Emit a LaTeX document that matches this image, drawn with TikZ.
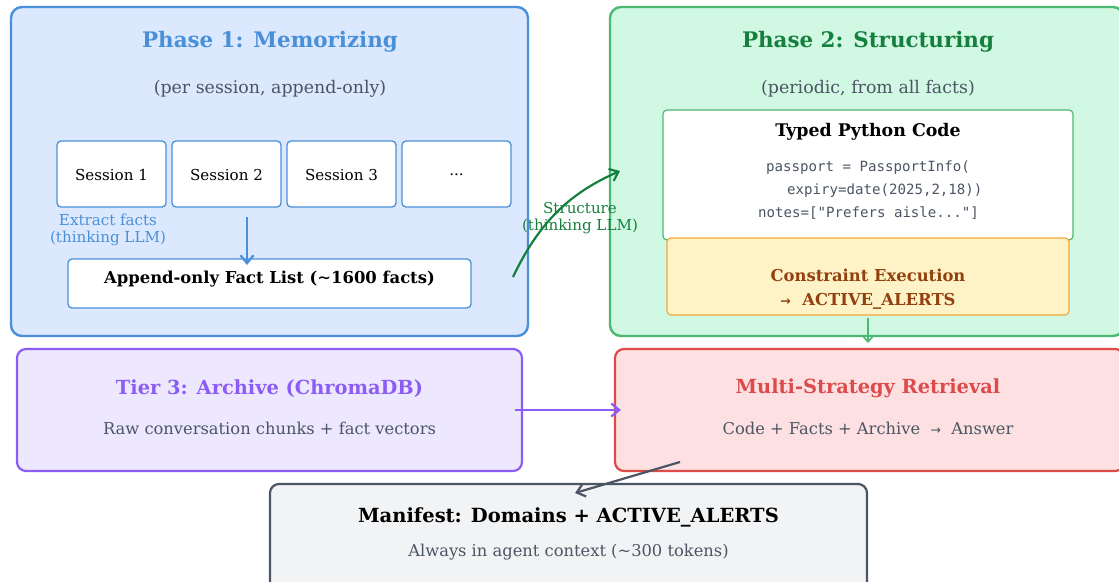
\documentclass[tikz,border=0pt]{standalone}
\usepackage{fontspec}
\setmainfont{DejaVu Serif}
\setmonofont{DejaVu Sans Mono}
\usetikzlibrary{arrows.meta}
\definecolor{pblue}{HTML}{4A90D9}
\definecolor{pbluefill}{HTML}{DBE8FD}
\definecolor{pgreen}{HTML}{4CB872}
\definecolor{pgreenfill}{HTML}{D1F8E3}
\definecolor{dgreen}{HTML}{15803D}
\definecolor{tgray}{HTML}{4B5563}
\definecolor{porange}{HTML}{F2A93B}
\definecolor{porangefill}{HTML}{FEF2C7}
\definecolor{brown}{HTML}{92400E}
\definecolor{ppurple}{HTML}{8B5CF6}
\definecolor{ppurplefill}{HTML}{EDE8FE}
\definecolor{pred}{HTML}{DC4A4A}
\definecolor{predfill}{HTML}{FDE0E1}
\definecolor{mgray}{HTML}{4B5563}
\definecolor{mfill}{HTML}{F2F3F5}
\tikzset{
  x=1pt, y=-1pt,
  outer/.style={rounded corners=11pt, line width=2.4pt},
  inner/.style={rounded corners=4pt, line width=1.3pt},
  title/.style={font=\fontsize{21.4}{25}\selectfont\bfseries},
  sub/.style={font=\fontsize{17.4}{20}\selectfont, text=tgray},
  desc/.style={font=\fontsize{16.3}{19}\selectfont, text=tgray},
  small/.style={font=\fontsize{15.1}{17}\selectfont},
  head/.style={font=\fontsize{16.4}{19}\selectfont\bfseries},
  code/.style={font=\ttfamily\fontsize{14.1}{16}\selectfont, text=tgray, anchor=west, inner sep=0pt},
  arr/.style={-{Straight Barb[length=8pt,width=13pt]}, line width=2.2pt},
  lbl/.style={inner sep=0pt}
}
\begin{document}
\begin{tikzpicture}
\useasboundingbox (0,0) rectangle (1119,581);
\clip (0,0) rectangle (1119,581);
% Phase 1
\path[outer, draw=pblue, fill=pbluefill] (11,7) rectangle (528,336);
\node[title, text=pblue, lbl] (p1t) at (270,41.5) {Phase 1: Memorizing};
\node[sub, lbl] (p1s) at (270,88.5) {(per session, append-only)};
\path[inner, draw=pblue, fill=white] (57,141) rectangle (166,207);
\path[inner, draw=pblue, fill=white] (172,141) rectangle (281,207);
\path[inner, draw=pblue, fill=white] (287,141) rectangle (396,207);
\path[inner, draw=pblue, fill=white] (402,141) rectangle (511,207);
\node[small, lbl] (s1) at (111.5,175) {Session 1};
\node[small, lbl] (s2) at (226.5,175) {Session 2};
\node[small, lbl] (s3) at (341.5,175) {Session 3};
\node[small, lbl] (s4) at (456.5,175) {...};
\node[small, text=pblue, lbl, align=center] (ext) at (108,230) {Extract facts\\[0pt](thinking LLM)};
\path[inner, draw=pblue, fill=white] (68,259) rectangle (471,308);
\node[head, lbl] (fl) at (269.5,279.5) {Append-only Fact List ({\char"223C}1600 facts)};
\coordinate (a1s) at (247,217);
\coordinate (a1e) at (247,265);
\draw[arr, pblue] (a1s) -- (a1e);
% Phase 2
\path[outer, draw=pgreen, fill=pgreenfill] (610,7) rectangle (1124,336);
\node[title, text=dgreen, lbl] (p2t) at (868,41.5) {Phase 2: Structuring};
\node[sub, lbl] (p2s) at (868,88.5) {(periodic, from all facts)};
\path[inner, draw=pgreen, fill=white, line width=1.2pt] (663,110) rectangle (1073,240);
\node[head, font=\fontsize{17.4}{20}\selectfont\bfseries, lbl] (tpc) at (868,131.5) {Typed Python Code};
\node[code] (c1) at (766,167.5) {passport = PassportInfo(};
\node[code] (c2) at (787,190.5) {expiry=date(2025,2,18))};
\node[code] (c3) at (758,213.5) {notes=["Prefers aisle..."]};
\path[inner, draw=porange, fill=porangefill, line width=1.2pt] (667,238) rectangle (1069,315);
\node[head, text=brown, lbl, align=center] (ce) at (868,289.5) {Constraint Execution\\[5pt]{\fontspec{DejaVu Sans}\fontsize{12.5}{14}\selectfont\bfseries →}\ \ ACTIVE\_ALERTS};
\coordinate (a2s) at (868,318);
\coordinate (a2e) at (868,343);
\draw[-{Straight Barb[length=5pt,width=9pt]}, line width=1.6pt, pgreen] (a2s) -- (a2e);
% curved arrow
\coordinate (cs) at (513,277);
\coordinate (ce2) at (620,171);
\draw[arr, dgreen] (cs) .. controls (540,220) and (572,192) .. (ce2);
\node[small, text=dgreen, lbl, align=center] (st) at (580,218.5) {Structure\\[0pt](thinking LLM)};
% Tier 3
\path[outer, rounded corners=9pt, line width=2.2pt, draw=ppurple, fill=ppurplefill] (17,349) rectangle (522,471);
\node[title, font=\fontsize{19.4}{23}\selectfont\bfseries, text=ppurple, lbl] (t3) at (269.5,388.5) {Tier 3: Archive (ChromaDB)};
\node[desc, lbl] (t3s) at (269.5,428) {Raw conversation chunks + fact vectors};
% Retrieval
\path[outer, rounded corners=9pt, line width=2.2pt, draw=pred, fill=predfill] (615,349) rectangle (1124,471);
\node[title, font=\fontsize{19.4}{23}\selectfont\bfseries, text=pred, lbl] (mr) at (868,388.5) {Multi-Strategy Retrieval};
\node[desc, lbl] (mrs) at (868,428) {Code + Facts + Archive\ \ {\fontspec{DejaVu Sans}\fontsize{12.5}{14}\selectfont →}\ \ Answer};
% Manifest
\path[outer, rounded corners=9pt, line width=2.2pt, draw=mgray, fill=mfill] (270,484) rectangle (867,600);
\node[title, font=\fontsize{19.5}{23}\selectfont\bfseries, lbl] (mf) at (568.5,517.5) {Manifest: Domains + ACTIVE\_ALERTS};
\node[desc, lbl] (mfs) at (568.5,552) {Always in agent context ({\char"223C}300 tokens)};
% arrows
\coordinate (a3s) at (515,410);
\coordinate (a3e) at (621,410);
\draw[arr, ppurple] (a3s) -- (a3e);
\coordinate (a4s) at (680,462);
\coordinate (a4e) at (575,493);
\draw[arr, mgray] (a4s) -- (a4e);
\end{tikzpicture}
\end{document}
